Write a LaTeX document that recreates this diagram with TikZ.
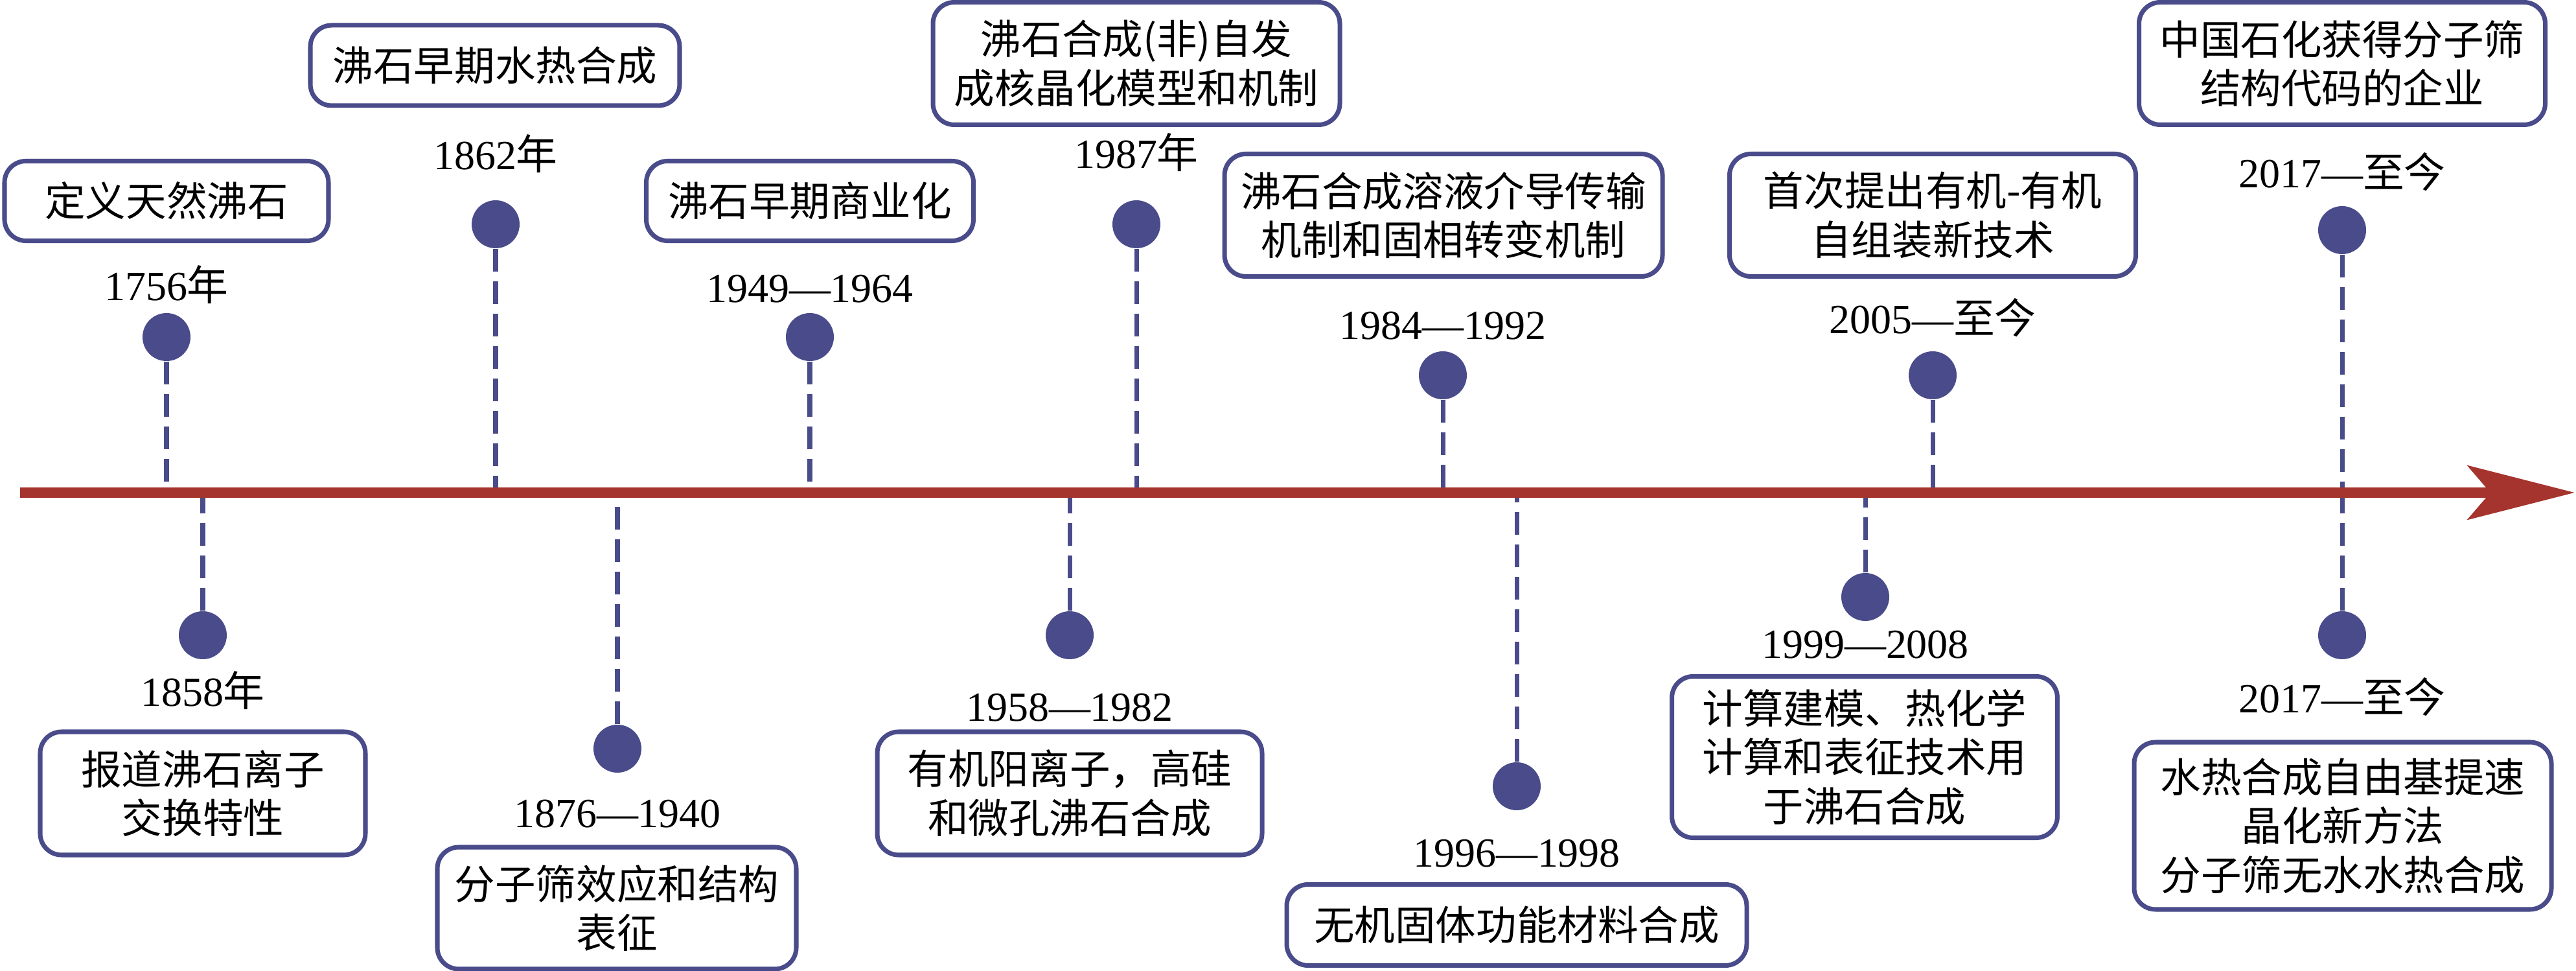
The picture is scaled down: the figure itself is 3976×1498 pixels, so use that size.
\documentclass[tikz,border=0pt]{standalone}
\usepackage{fontspec}
\setmainfont{Liberation Serif}
\newfontfamily\cjk{Noto Sans CJK SC}
\usetikzlibrary{positioning,arrows.meta}
\definecolor{dotblue}{RGB}{73,75,138}
\definecolor{axisred}{RGB}{166,52,46}

\begin{document}
\begin{tikzpicture}[x=0.1mm, y=-0.1mm,
eventdot/.style={circle, fill=dotblue, inner sep=0pt, minimum size=7.4mm},
eventbox/.style={draw=dotblue, line width=2pt, rounded corners=3.3mm, align=center, inner sep=0pt, font=\cjk\fontsize{17.8}{21.5}\selectfont},
yearlabel/.style={inner sep=0pt, font=\fontsize{18.2}{21.5}\selectfont},
dashline/.style={draw=dotblue, line width=2pt, dash pattern=on 3.5mm off 1.5mm},
axisline/.style={draw=axisred, line width=4.6pt, -{Stealth[length=16.5mm, width=8.3mm, inset=3.5mm]}}
]
    \useasboundingbox (0,0) rectangle (3976,1498);

    %Axis points
    \coordinate (tstart) at (31,760);
    \coordinate (tend)   at (3974,760);
    \foreach \name/\xpos in {a1756/257, a1862/765, a1949/1250, a1987/1754, a1984/2227, a2005/2983, a2017u/3615,
                             a1858/313, a1876/953, a1958/1651, a1996/2341, a1999/2879, a2017d/3615}
        \coordinate (\name) at (\xpos,760);

    %Nodes above the axis
    \node[eventdot]  (d1756) at (257,520) {};
    \node[yearlabel] (y1756) at (257,439) {1756{\cjk 年}};
    \node[eventbox, minimum width=50mm, minimum height=12.3mm]
        (b1756) at (257,310) {定义天然沸石};

    \node[eventdot]  (d1862) at (765,346) {};
    \node[yearlabel] (y1862) at (765,237) {1862{\cjk 年}};
    \node[eventbox, minimum width=57mm, minimum height=12.4mm]
        (b1862) at (764,101) {沸石早期水热合成};

    \node[eventdot]  (d1949) at (1250,520) {};
    \node[yearlabel] (y1949) at (1250,446) {1949—1964};
    \node[eventbox, minimum width=50.5mm, minimum height=12.3mm]
        (b1949) at (1250,310) {沸石早期商业化};

    \node[eventdot]  (d1987) at (1754,346) {};
    \node[yearlabel] (y1987) at (1754,235) {1987{\cjk 年}};
    \node[eventbox, minimum width=62.8mm, minimum height=18.9mm]
        (b1987) at (1754,98) {沸石合成(非)自发\\成核晶化模型和机制};

    \node[eventdot]  (d1984) at (2227,579) {};
    \node[yearlabel] (y1984) at (2227,503) {1984—1992};
    \node[eventbox, minimum width=67.6mm, minimum height=18.9mm]
        (b1984) at (2228,332) {沸石合成溶液介导传输\\机制和固相转变机制};

    \node[eventdot]  (d2005) at (2983,579) {};
    \node[yearlabel] (y2005) at (2983,490) {2005—{\cjk 至今}};
    \node[eventbox, minimum width=62.7mm, minimum height=18.9mm]
        (b2005) at (2983,332) {首次提出有机-有机\\自组装新技术};

    \node[eventdot]  (d2017u) at (3615,355) {};
    \node[yearlabel] (y2017u) at (3615,265) {2017—{\cjk 至今}};
    \node[eventbox, minimum width=62.7mm, minimum height=18.9mm]
        (b2017u) at (3615,98) {中国石化获得分子筛\\结构代码的企业};

    %Nodes below the axis
    \node[eventdot]  (d1858) at (313,980) {};
    \node[yearlabel] (y1858) at (313,1065) {1858{\cjk 年}};
    \node[eventbox, minimum width=50.2mm, minimum height=19mm]
        (b1858) at (313,1224) {报道沸石离子\\交换特性};

    \node[eventdot]  (d1876) at (953,1155) {};
    \node[yearlabel] (y1876) at (953,1256) {1876—1940};
    \node[eventbox, minimum width=55.4mm, minimum height=18.8mm]
        (b1876) at (952,1401) {分子筛效应和结构\\表征};

    \node[eventdot]  (d1958) at (1651,980) {};
    \node[yearlabel] (y1958) at (1651,1092) {1958—1982};
    \node[eventbox, minimum width=59.4mm, minimum height=19mm]
        (b1958) at (1651,1224) {有机阳离子，高硅\\和微孔沸石合成};

    \node[eventdot]  (d1996) at (2341,1213) {};
    \node[yearlabel] (y1996) at (2341,1317) {1996—1998};
    \node[eventbox, minimum width=71mm, minimum height=12.5mm]
        (b1996) at (2341,1427) {无机固体功能材料合成};

    \node[eventdot]  (d1999) at (2879,921) {};
    \node[yearlabel] (y1999) at (2879,995) {1999—2008};
    \node[eventbox, minimum width=59.5mm, minimum height=24.9mm]
        (b1999) at (2878,1168) {计算建模、热化学\\计算和表征技术用\\于沸石合成};

    \node[eventdot]  (d2017d) at (3615,980) {};
    \node[yearlabel] (y2017d) at (3615,1075) {2017—{\cjk 至今}};
    \node[eventbox, minimum width=64.4mm, minimum height=25.8mm]
        (b2017d) at (3616,1274) {水热合成自由基提速\\晶化新方法\\分子筛无水水热合成};

    %Lines
    \foreach \ev in {1756,1862,1949,1987,1984,2005,2017u,1858,1876,1958,1996,1999,2017d}
        \draw[dashline] (d\ev) -- (a\ev);
    \draw[axisline] (tstart) -- (tend);
\end{tikzpicture}
\end{document}
